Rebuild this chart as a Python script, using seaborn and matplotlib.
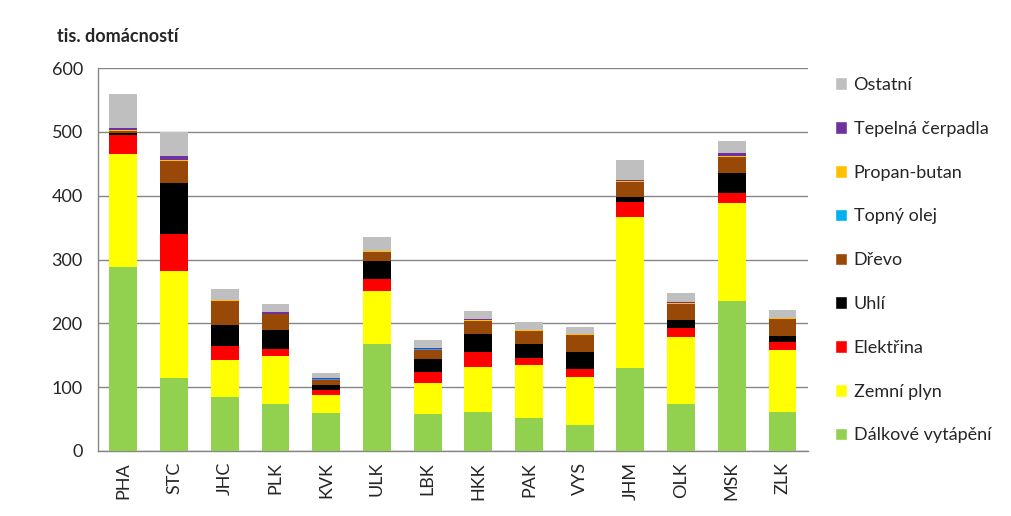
import numpy as np
import pandas as pd
import seaborn as sns

import matplotlib

matplotlib.use("Agg")
import matplotlib.pyplot as plt
from matplotlib.patches import Patch

sns.set_style("white")
plt.rcParams["font.family"] = ["Lato", "DejaVu Sans"]

# kraje
regions = ["PHA", "STC", "JHC", "PLK", "KVK", "ULK", "LBK",
           "HKK", "PAK", "VYS", "JHM", "OLK", "MSK", "ZLK"]

# tis. domacnosti podle zpusobu vytapeni (odspodu nahoru)
dalkove = [288, 114, 85, 74, 60, 168, 58, 61, 52, 41, 130, 74, 235, 61]
zemni_plyn = [177, 168, 58, 75, 28, 83, 48, 71, 83, 75, 237, 105, 153, 97]
elektrina = [30, 58, 21, 11, 7, 19, 18, 23, 11, 13, 23, 14, 17, 13]
uhli = [4, 80, 33, 30, 9, 27, 20, 28, 22, 26, 8, 12, 30, 9]
drevo = [3, 35, 38, 24, 8, 15, 15, 21, 20, 27, 24, 26, 26, 27]
topny_olej = [0.2, 0.2, 0.2, 0.2, 0.1, 0.2, 0.1, 0.1, 0.1, 0.1, 0.2, 0.1, 0.2, 0.1]
propan_butan = [1.5, 1.5, 1.5, 1, 1, 1, 1.5, 1.5, 1, 1, 1.5, 1.5, 1, 1.5]
tepelna_cerpadla = [2, 6, 0.5, 2, 0.5, 0.5, 0.5, 0.5, 0.5, 0.5, 0.5, 0.5, 4, 0.5]
ostatni = [54, 37, 17, 13, 9, 21, 13, 14, 12, 11, 32, 15, 20, 12]

series = [
    ("Dálkové vytápění", dalkove, "#92D050"),
    ("Zemní plyn", zemni_plyn, "#FFFF00"),
    ("Elektřina", elektrina, "#FF0000"),
    ("Uhlí", uhli, "#000000"),
    ("Dřevo", drevo, "#984807"),
    ("Topný olej", topny_olej, "#00B0F0"),
    ("Propan-butan", propan_butan, "#FFC000"),
    ("Tepelná čerpadla", tepelna_cerpadla, "#7030A0"),
    ("Ostatní", ostatni, "#BFBFBF"),
]

df = pd.DataFrame({name: vals for name, vals, _ in series}, index=regions)
cum = df.cumsum(axis=1)

fig = plt.figure(figsize=(10.11, 5.16), dpi=100)
ax = fig.add_axes([0.097, 0.126, 0.702, 0.742])

# stacked bars: draw cumulative totals from the top layer down
for name, _, color in reversed(series):
    sns.barplot(x=regions, y=cum[name].values, color=color, width=0.55,
                saturation=1, ax=ax, zorder=3, linewidth=0)

ax.set_ylim(0, 600)
ax.set_xlim(-0.5, len(regions) - 0.5)
ax.set_yticks(range(0, 601, 100))
ax.yaxis.grid(True, color="#868686", linewidth=1, zorder=0)
ax.set_axisbelow(True)

for side in ["top", "right"]:
    ax.spines[side].set_visible(False)
for side in ["left", "bottom"]:
    ax.spines[side].set_color("#868686")
    ax.spines[side].set_linewidth(1)

ax.set_xticks(np.arange(len(regions)))
ax.set_xticklabels(regions, rotation=90, fontsize=13)
ax.set_xticks(np.arange(-0.5, len(regions)), minor=True)
ax.tick_params(axis="x", which="major", length=0, pad=8)
ax.tick_params(axis="x", which="minor", length=5, color="#868686", direction="out")
ax.tick_params(axis="y", length=5, color="#868686", labelsize=13, pad=6)
ax.set_xlabel("")
ax.set_ylabel("")

fig.text(0.056, 0.93, "tis. domácností", fontsize=13, fontweight="bold",
         va="center", ha="left")

handles = [Patch(facecolor=c, label=n) for n, _, c in reversed(series)]
ax.legend(handles=handles, loc="upper left", bbox_to_anchor=(1.02, 1.01),
          frameon=False, fontsize=13, handlelength=0.7, handleheight=0.7,
          handletextpad=0.35, labelspacing=1.54, borderaxespad=0.3)

plt.savefig("out.png", dpi=100, facecolor="white")
plt.close()
